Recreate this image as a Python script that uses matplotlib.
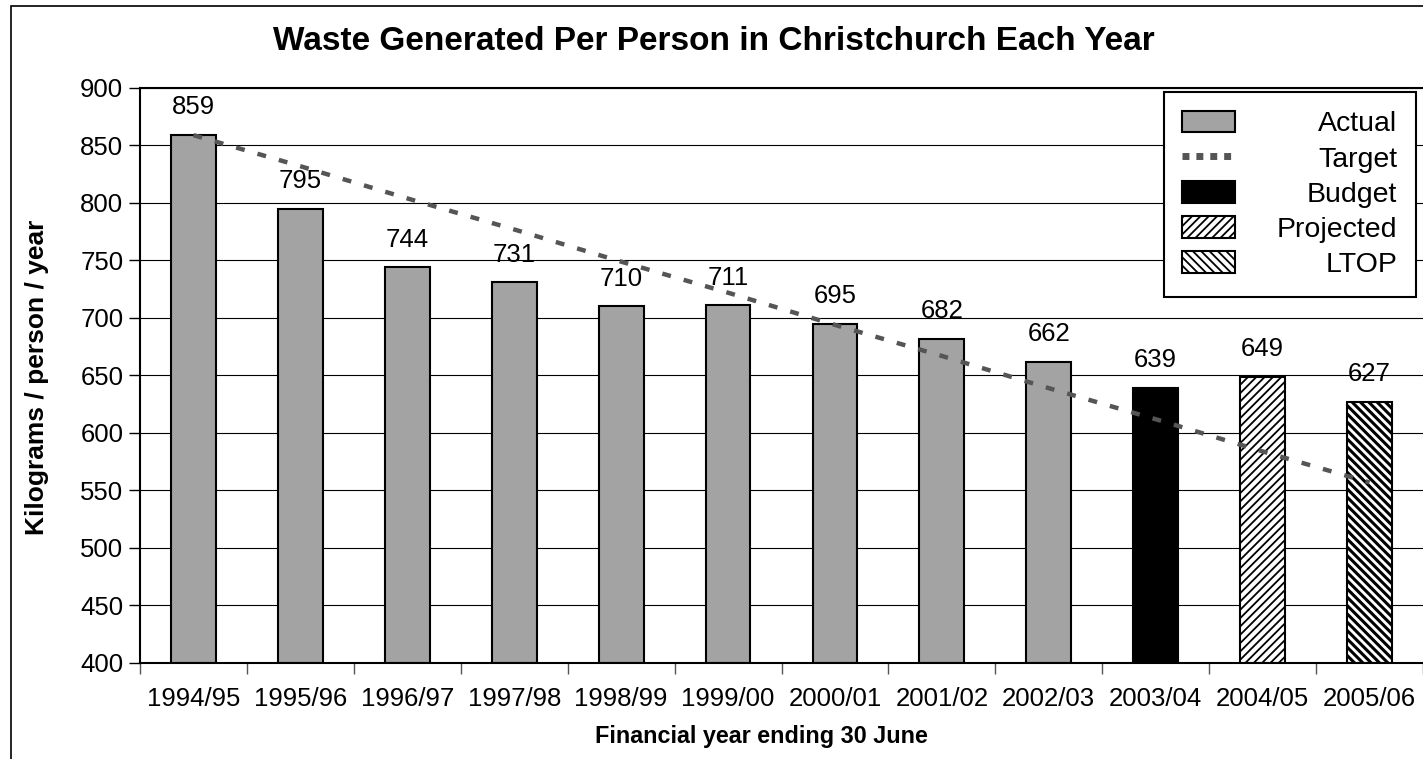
import numpy as np
import matplotlib
matplotlib.use("Agg")
import matplotlib.pyplot as plt
from matplotlib.patches import Patch, Rectangle
from matplotlib.lines import Line2D

plt.rcParams['font.family'] = ['Liberation Sans', 'DejaVu Sans']
plt.rcParams['hatch.linewidth'] = 1.3

# data
years = ['1994/95', '1995/96', '1996/97', '1997/98', '1998/99', '1999/00',
         '2000/01', '2001/02', '2002/03', '2003/04', '2004/05', '2005/06']
waste = [859, 795, 744, 731, 710, 711, 695, 682, 662, 639, 649, 627]
kind = ['Actual'] * 9 + ['Budget', 'Projected', 'LTOP']
target = [859, 832, 804, 777, 749, 722, 694, 667, 639, 612, 584, 557]

styles = {
    'Actual': dict(facecolor='#a3a3a3', hatch=None, hlw=1.3),
    'Budget': dict(facecolor='black', hatch=None, hlw=1.3),
    'Projected': dict(facecolor='white', hatch='////', hlw=1.3),
    'LTOP': dict(facecolor='white', hatch='\\\\\\\\', hlw=2.2),
}


def hatch_lw(patch, lw):
    if hasattr(patch, 'set_hatch_linewidth'):
        patch.set_hatch_linewidth(lw)


W, H = 1423, 759
fig = plt.figure(figsize=(W / 100, H / 100), dpi=100)
ax = fig.add_axes([140 / W, 1 - 663 / H, 1 - 140 / W, 575 / H])

x = np.arange(len(years))
for xi, v, k in zip(x, waste, kind):
    st = styles[k]
    with plt.rc_context({'hatch.linewidth': st['hlw']}):
        b = ax.bar(xi, v - 400, bottom=400, width=0.42, color=st['facecolor'],
                   edgecolor='black', linewidth=1.5, hatch=st['hatch'], zorder=2)
    for p in b:
        hatch_lw(p, st['hlw'])
    ax.annotate(str(v), (xi, v), xytext=(0, 15), textcoords='offset points',
                ha='center', va='baseline', fontsize=18.5)

ax.plot(x, target, color='#555555', lw=3.2, ls=(0, (2, 3)), zorder=3)

ax.set_xlim(-0.5, len(years) - 0.5)
ax.set_ylim(400, 900)
ax.set_yticks(np.arange(400, 901, 50))
ax.yaxis.grid(True, color='black', lw=0.8, zorder=0)
ax.set_axisbelow(True)
ax.tick_params(axis='y', labelsize=18.5, length=8, width=1, pad=4)

ax.set_xticks(np.arange(-0.5, len(years), 1))
ax.set_xticklabels([])
ax.set_xticks(x, minor=True)
ax.set_xticklabels(years, minor=True)
ax.tick_params(axis='x', which='major', length=8, width=1, color='#555555')
ax.tick_params(axis='x', which='minor', length=0, labelsize=18.5, pad=17)

for s in ['left', 'bottom', 'top']:
    ax.spines[s].set_linewidth(1.5)
ax.spines['right'].set_visible(False)

with plt.rc_context({'hatch.linewidth': 2.2}):
    ltop_handle = Patch(facecolor='white', edgecolor='black', lw=1.5, hatch='\\\\\\\\')
hatch_lw(ltop_handle, 2.2)
handles = [Patch(facecolor='#a3a3a3', edgecolor='black', lw=1.5),
           Line2D([], [], color='#555555', lw=5, ls=(0, (1, 1))),
           Patch(facecolor='black', edgecolor='black', lw=1.5),
           Patch(facecolor='white', edgecolor='black', lw=1.5, hatch='////'),
           ltop_handle]
leg = ax.legend(handles, ['Actual', 'Target', 'Budget', 'Projected', 'LTOP'],
                loc='upper right', bbox_to_anchor=(1416 / W, 1 - 92 / H),
                bbox_transform=fig.transFigure, fontsize=20.5, fancybox=False,
                framealpha=1, edgecolor='black', handlelength=1.86,
                handleheight=0.78, handletextpad=1.45, labelspacing=0.3,
                borderpad=0.66, borderaxespad=0)
leg.get_frame().set_linewidth(1.5)

# right-align legend labels like the original
fig.canvas.draw()
renderer = fig.canvas.get_renderer()
widths = [t.get_window_extent(renderer).width for t in leg.get_texts()]
for t, w in zip(leg.get_texts(), widths):
    t.set_position((max(widths) - w, 0))

fig.text(714 / W, 1 - 42 / H, 'Waste Generated Per Person in Christchurch Each Year',
         ha='center', va='center', fontsize=24, fontweight='bold')
fig.text(37 / W, 1 - 377 / H, 'Kilograms / person / year', rotation=90,
         ha='center', va='center', fontsize=19, fontweight='bold')
fig.text(761 / W, 1 - 737 / H, 'Financial year ending 30 June',
         ha='center', va='center', fontsize=16.8, fontweight='bold')

# outer chart border (left and top visible)
fig.patches.append(Rectangle((11 / W, -0.1), 1.2, 0.1 + (H - 6) / H,
                             transform=fig.transFigure, fill=False,
                             edgecolor='black', lw=1.2))

fig.savefig('out.png', dpi=100)
